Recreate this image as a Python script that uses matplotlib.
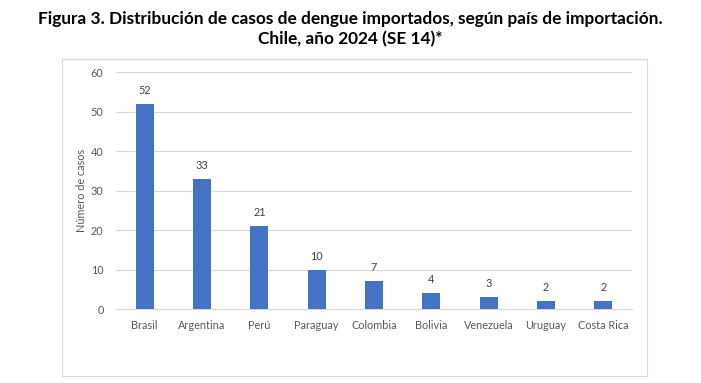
import matplotlib
matplotlib.use("Agg")
import matplotlib.pyplot as plt
from matplotlib.patches import Rectangle

# Datos
paises = ["Brasil", "Argentina", "Perú", "Paraguay", "Colombia",
          "Bolivia", "Venezuela", "Uruguay", "Costa Rica"]
casos = [52, 33, 21, 10, 7, 4, 3, 2, 2]
y_ticks = [0, 10, 20, 30, 40, 50, 60]

titulo = ("Figura 3. Distribución de casos de dengue importados, según país de importación.\n"
          "Chile, año 2024 (SE 14)*")

plt.rcParams['font.family'] = ['Lato', 'DejaVu Sans']

fig = plt.figure(figsize=(7.01, 3.83), dpi=100)

# Marco del grafico
fig.patches.append(Rectangle((0.0884, 0.0183), 0.8345, 0.8277,
                             transform=fig.transFigure, fill=False,
                             edgecolor="#d9d9d9", linewidth=0.8))

fig.text(0.5, 0.972, titulo, ha="center", va="top", fontsize=12.4,
         fontweight="bold", linespacing=1.35, color="black")

ax = fig.add_axes([0.1655, 0.1932, 0.7361, 0.6188])
x = list(range(len(paises)))
bars = ax.bar(x, casos, width=0.31, color="#4472c4", zorder=3)

for xi, v in zip(x, casos):
    ax.text(xi, v + 2.0, str(v), ha="center", va="bottom", fontsize=7.8,
            color="#404040")

ax.set_xlim(-0.5, len(paises) - 0.5)
ax.set_ylim(0, 60)
ax.set_yticks(y_ticks)
ax.set_xticks(x)
ax.set_xticklabels(paises)
ax.grid(axis="y", color="#d9d9d9", linewidth=0.8, zorder=0)
for s in ["top", "right", "left"]:
    ax.spines[s].set_visible(False)
ax.spines["bottom"].set_color("#d9d9d9")
ax.tick_params(axis="both", length=0, labelsize=7.8, colors="#595959")
ax.tick_params(axis="x", pad=8)
ax.tick_params(axis="y", pad=9)
ax.set_ylabel("Número de casos", fontsize=7.8, color="#595959", labelpad=3)

fig.savefig("out.png", dpi=100)
